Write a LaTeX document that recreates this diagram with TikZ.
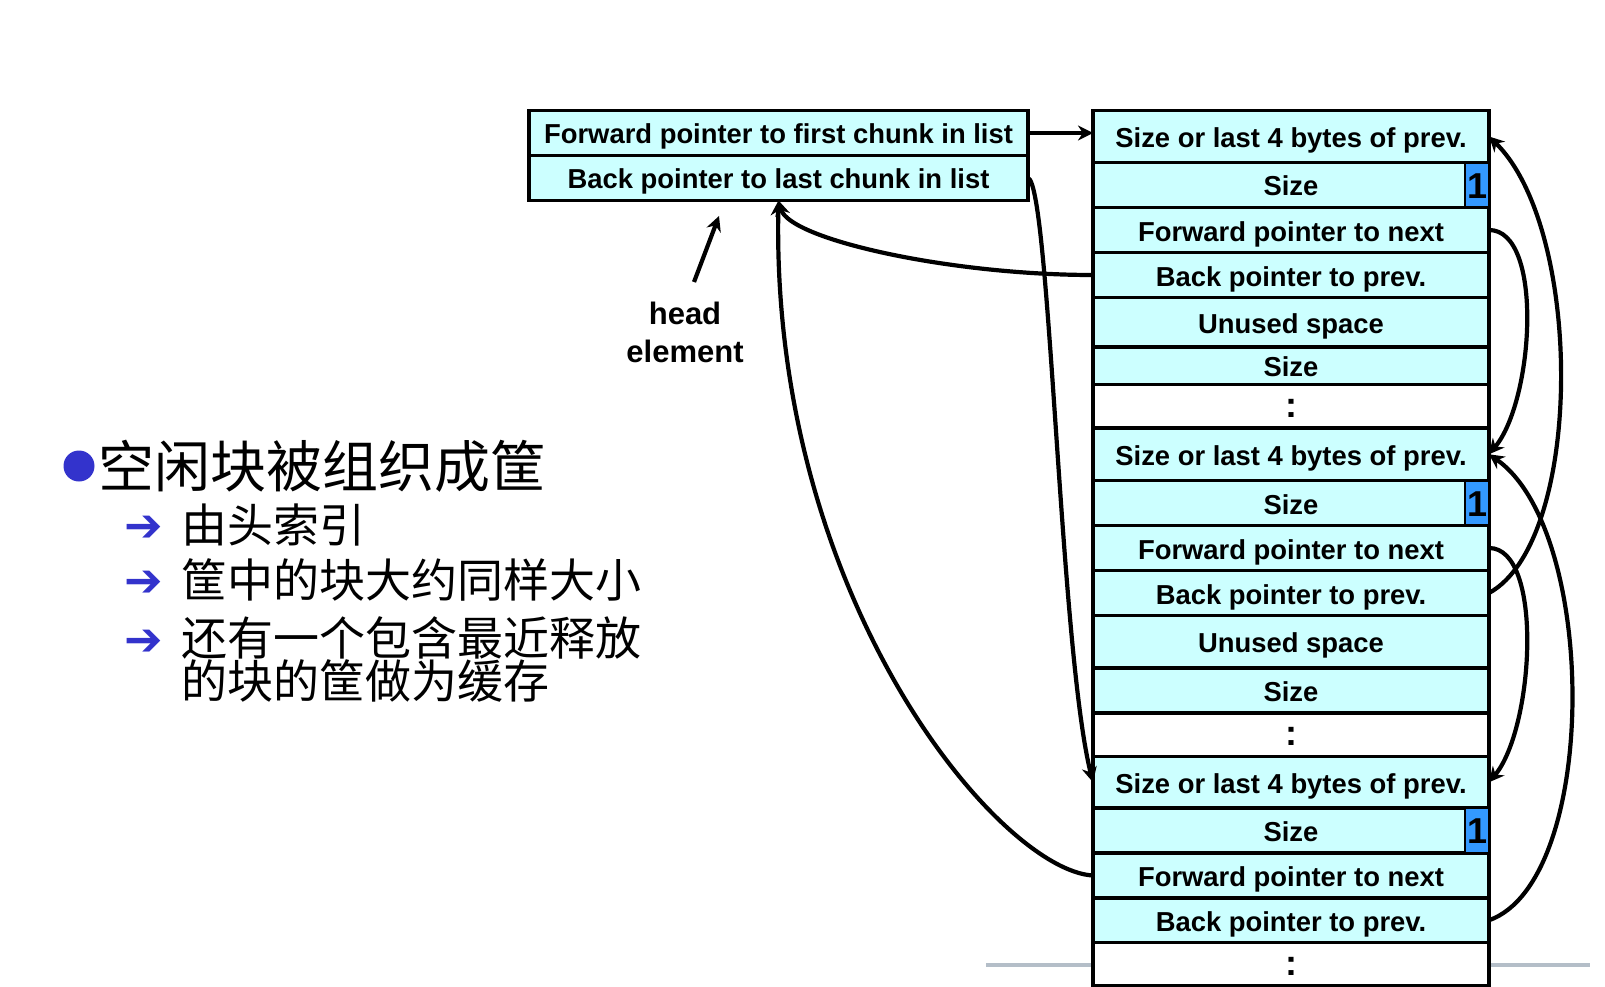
\documentclass[tikz,border=0pt]{standalone}
\usepackage{fontspec}
\setmainfont{Liberation Sans}
\newfontfamily\cjk{Noto Sans CJK SC}
\newfontfamily\dvsans{DejaVu Sans}
\usetikzlibrary{positioning,arrows.meta}
\definecolor{CellCyan}{HTML}{CCFFFF}
\definecolor{FlagBlue}{HTML}{3399FF}
\definecolor{BulletBlue}{HTML}{3333CC}
\definecolor{RuleGray}{HTML}{B4BEC8}

\begin{document}
\begin{tikzpicture}[
    x=1pt,y=-1pt,
    every node/.style={font=\fontsize{27.4}{32}\selectfont\bfseries,align=center,inner sep=0pt,outer sep=0pt},
    cell/.style={draw,line width=3.1pt,fill=CellCyan,minimum width=396pt,minimum height=45pt,text height=22pt,text depth=0pt},
    tallcell/.style={cell,minimum height=52pt},
    gapcell/.style={cell,fill=white,minimum height=43.5pt,font=\fontsize{36}{36}\selectfont\bfseries},
    headcell/.style={draw,line width=3.1pt,fill=CellCyan,minimum width=499pt,minimum height=45pt,text height=22pt,text depth=0pt},
    flag/.style={draw,line width=2.6pt,fill=FlagBlue,minimum width=24pt,minimum height=45pt,text height=26pt,text depth=0pt,font=\fontsize{36}{36}\selectfont\bfseries},
    zh/.style={font=\cjk\fontsize{46}{43}\selectfont,align=left,anchor=west},
    tick/.style={font=\dvsans\fontsize{46}{46}\selectfont,text=BulletBlue},
    link/.style={line width=4.2pt,-{Stealth[length=15pt,width=15pt]}}
  ]
    \useasboundingbox (0,0) rectangle (1605,987);
    \draw[RuleGray,line width=4pt] (986,965) -- (1590,965);

    % list head
    \node[headcell] (h1) at (778.5,133) {Forward pointer to first chunk in list};
    \node[headcell,below=0pt of h1] (h2) {Back pointer to last chunk in list};
    \node[font=\fontsize{31}{38}\selectfont\bfseries] (lbl) at (685,332) {head\\element};
    \coordinate (hp) at (719,216);
    \draw[link] ([shift={(9,-50)}]lbl.center) -- (hp);

    % free chunks
    \node[tallcell] (r1) at (1291,136.5) {Size or last 4 bytes of prev.};
    \node[cell,below=0pt of r1] (r2) {Size};
    \node[cell,below=0pt of r2] (r3) {Forward pointer to next};
    \node[cell,below=0pt of r3] (r4) {Back pointer to prev.};
    \node[cell,minimum height=49.5pt,below=0pt of r4] (r5) {Unused space};
    \node[cell,minimum height=37.5pt,below=0pt of r5] (r6) {Size};
    \node[gapcell,below=0pt of r6] (r7) {:};
    \node[tallcell,minimum height=52.5pt,below=0pt of r7] (r8) {Size or last 4 bytes of prev.};
    \node[cell,below=0pt of r8] (r9) {Size};
    \node[cell,below=0pt of r9] (r10) {Forward pointer to next};
    \node[cell,below=0pt of r10] (r11) {Back pointer to prev.};
    \node[tallcell,minimum height=52.5pt,below=0pt of r11] (r12) {Unused space};
    \node[cell,below=0pt of r12] (r13) {Size};
    \node[gapcell,below=0pt of r13] (r14) {:};
    \node[tallcell,minimum height=51.5pt,below=0pt of r14] (r15) {Size or last 4 bytes of prev.};
    \node[cell,below=0pt of r15] (r16) {Size};
    \node[cell,below=0pt of r16] (r17) {Forward pointer to next};
    \node[cell,minimum height=44.5pt,below=0pt of r17] (r18) {Back pointer to prev.};
    \node[gapcell,minimum height=43pt,below=0pt of r18] (r19) {:};
    \node[flag,anchor=north east] (f1) at (r2.north east) {1};
    \node[flag,anchor=north east] (f2) at (r9.north east) {1};
    \node[flag,anchor=north east] (f3) at (r16.north east) {1};

    % bullets
    \node[circle,fill=BulletBlue,minimum size=31pt] (dot) at (79,466) {};
    \node[zh,font=\cjk\fontsize{56}{60}\selectfont] (title) at (98,466) {空闲块被组织成筐};
    \node[tick] (t1) at (144,529) {➔};
    \node[tick] (t2) at (144,584) {➔};
    \node[tick] (t3) at (144,643) {➔};
    \node[zh] (s1) at (181,525) {由头索引};
    \node[zh] (s2) at (181,580) {筐中的块大约同样大小};
    \node[zh] (s3) at (181,659) {还有一个包含最近释放\\的块的筐做为缓存};

    % pointers
    \draw[link] (h1.east) -- (h1.east -| r1.west);
    \draw[link] (h2.east) .. controls +(22,7) and +(-33,-131) .. (r15.west);
    \draw[link] (r4.west) .. controls +(-143,0) and +(11,39) .. (h2.south);
    \draw[link] (r17.west) .. controls +(-93,-5) and +(-8,399) .. (h2.south);
    \draw[link] (r3.east) .. controls +(55,0) and +(45,-54) .. (r8.east);
    \draw[link] (r11.east) .. controls +(95,-52) and +(95,93) .. (r1.east);
    \draw[link] (r10.east) .. controls +(55,0) and +(45,-54) .. (r15.east);
    \draw[link] (r18.east) .. controls +(110,-39) and +(110,77) .. (r8.east);
\end{tikzpicture}
\end{document}
